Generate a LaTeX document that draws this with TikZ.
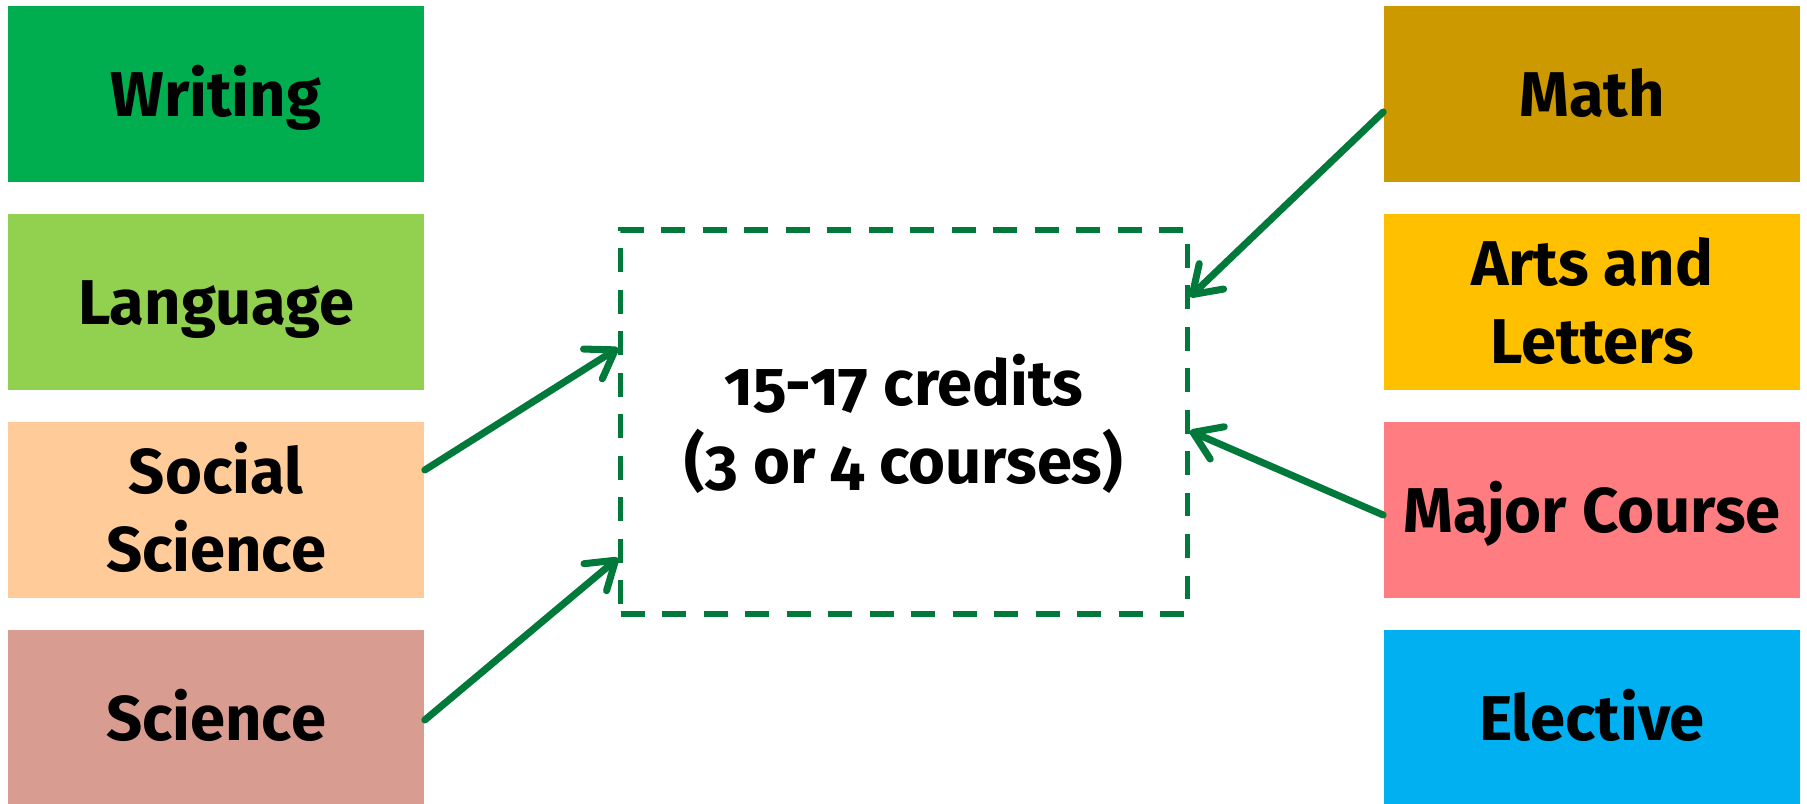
\documentclass[tikz,border=0pt]{standalone}
\usepackage{fontspec}
\setmainfont{Fira Sans}[Numbers=OldStyle,RawFeature=+onum]
\usetikzlibrary{arrows.meta,calc}
\definecolor{cwriting}{HTML}{00AE4F}
\definecolor{clanguage}{HTML}{92D050}
\definecolor{csocial}{HTML}{FFCC99}
\definecolor{cscience}{HTML}{D99C91}
\definecolor{cmath}{HTML}{CC9900}
\definecolor{carts}{HTML}{FFC000}
\definecolor{cmajor}{HTML}{FF7C80}
\definecolor{celective}{HTML}{00B0F0}
\definecolor{cline}{HTML}{00793A}
\begin{document}
\begin{tikzpicture}[x=0.01cm,y=-0.01cm,
  catbox/.style={draw=none, minimum width=4.16cm, minimum height=1.76cm,
    inner sep=0pt, align=center, text=black,
    font=\bfseries\fontsize{18}{21.9}\selectfont,
    text height=12.8pt, text depth=0pt},
  twoline/.style={text height=34.7pt, text depth=0pt},
  credbox/.style={draw=cline, line width=1.5pt, dash pattern=on 6.8pt off 5pt,
    minimum width=5.66cm, minimum height=3.84cm, inner sep=0pt, align=center,
    font=\bfseries\fontsize{18}{21.9}\selectfont,
    text height=34.7pt, text depth=0pt},
  arr/.style={draw=cline, line width=2pt, line cap=round,
    -{Straight Barb[length=7.5pt,width=10pt,line cap=round,line join=round]}}]
\useasboundingbox (0,0) rectangle (1807,804);
% left column
\node[catbox, fill=cwriting]  (wr) at (216,94)  {Writing};
\node[catbox, fill=clanguage] (la) at (216,302) {Language};
\node[catbox, fill=csocial, twoline] (ss) at (216,510) {Social\\Science};
\node[catbox, fill=cscience]  (sc) at (216,718) {Science};
% right column
\node[catbox, fill=cmath]     (ma) at (1592,94)  {Math};
\node[catbox, fill=carts, twoline] (ar) at (1592,302) {Arts and\\Letters};
\node[catbox, fill=cmajor]    (mj) at (1592,510) {Major Course};
\node[catbox, fill=celective] (el) at (1592,718) {Elective};
% centre
\node[credbox] (cr) at (904,422) {15-17 credits\\(3 or 4 courses)};
% arrows
\draw[arr] ($(ss.east)+(0,-40)$) -- ($(cr.west)+(0,-74)$);
\draw[arr] ($(sc.east)+(0,2)$) -- ($(cr.west)+(0,136)$);
\draw[arr] ($(ma.west)+(0,18)$) -- ($(cr.east)+(0,-125)$);
\draw[arr] ($(mj.west)+(0,5)$) -- ($(cr.east)+(0,9)$);
\end{tikzpicture}
\end{document}
